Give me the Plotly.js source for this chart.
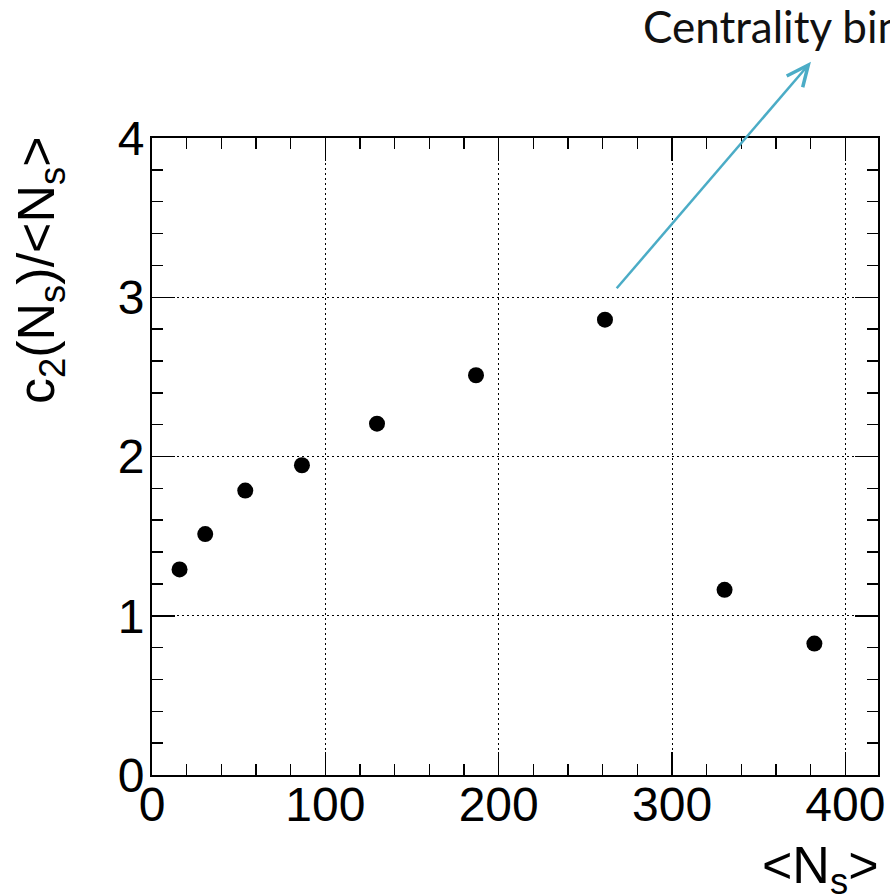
<!DOCTYPE html>
<html>
<head>
<meta charset="utf-8">
<script src="https://cdn.plot.ly/plotly-3.0.1.min.js"></script>
<style>html,body{margin:0;padding:0;background:#fff;}#chart{width:890px;height:895px;}</style>
</head>
<body>
<div id="chart"></div>
<script>
// Data
const meanNs = [15.9, 30.7, 53.8, 86.5, 129.8, 186.9, 261.3, 330.3, 382.1];
const c2OverNs = [1.291, 1.513, 1.786, 1.945, 2.206, 2.510, 2.859, 1.163, 0.825];
const xTickVals = [0, 100, 200, 300, 400];
const yTickVals = [0, 1, 2, 3, 4];
const yTitleText = 'c<sub>2</sub>(N<sub>s</sub>)/&lt;N<sub>s</sub>&gt;';
const xTitleText = '&lt;N<sub>s</sub>&gt;';
const noteText = 'Centrality bin';

const W = 890, H = 895;
const m = {l: 152, r: 12, t: 138, b: 120};
const pw = W - m.l - m.r, ph = H - m.t - m.b;
const px = v => (v - m.l) / pw;
const py = v => (H - m.b - v) / ph;

const helv = '"Liberation Sans", Arial, Helvetica, sans-serif';
const axisFont = {family: helv, size: 48, color: '#000'};

const trace = {
  x: meanNs, y: c2OverNs, type: 'scatter', mode: 'markers',
  marker: {color: '#000', size: 16, symbol: 'circle'},
  cliponaxis: false, hoverinfo: 'skip'
};

const common = {
  showline: true, linecolor: '#000', linewidth: 2, mirror: 'allticks',
  ticks: 'inside', ticklen: 23, tickwidth: 1.5, tickcolor: '#000',
  showgrid: true, gridcolor: '#000', gridwidth: 1, griddash: '2px,3px',
  zeroline: false, tickfont: axisFont, tickmode: 'array'
};

const layout = {
  width: W, height: H, margin: m,
  paper_bgcolor: '#fff', plot_bgcolor: '#fff', showlegend: false,
  xaxis: Object.assign({}, common, {
    range: [0, 418.8], tickvals: xTickVals, ticktext: xTickVals.map(String),
    minor: {ticks: 'inside', ticklen: 11, tickwidth: 1.5, tickcolor: '#000', dtick: 20, tick0: 0, showgrid: false},
    ticklabelstandoff: -14
  }),
  yaxis: Object.assign({}, common, {
    range: [0, 4], tickvals: yTickVals, ticktext: yTickVals.map(String),
    minor: {ticks: 'inside', ticklen: 11, tickwidth: 1.5, tickcolor: '#000', dtick: 0.2, tick0: 0, showgrid: false},
    ticklabelstandoff: -4
  }),
  annotations: [
    {xref: 'paper', yref: 'paper', x: px(40), y: py(134), xanchor: 'center', yanchor: 'top',
     text: yTitleText, textangle: -90, showarrow: false,
     font: {family: helv, size: 52, color: '#000'}},
    {xref: 'paper', yref: 'paper', x: px(881), y: py(869), xanchor: 'right', yanchor: 'middle',
     text: xTitleText, showarrow: false,
     font: {family: helv, size: 52, color: '#000'}},
    {xref: 'paper', yref: 'paper', x: px(641), y: py(26), xanchor: 'left', yanchor: 'middle',
     text: noteText, showarrow: false,
     font: {family: 'Lato, "Open Sans", sans-serif', size: 44, color: '#111'}}
  ],
  shapes: [
    {type: 'line', xref: 'paper', yref: 'paper', x0: px(616.7), y0: py(288.3), x1: px(807.5), y1: py(66),
     line: {color: '#4BACC6', width: 2.5}},
    {type: 'path', xref: 'paper', yref: 'paper',
     path: 'M' + px(786.7) + ',' + py(76) + ' L' + px(808.3) + ',' + py(65) + ' L' + px(802.7) + ',' + py(87.3),
     line: {color: '#4BACC6', width: 3.5}}
  ]
};

Plotly.newPlot('chart', [trace], layout, {displayModeBar: false, staticPlot: true});
</script>
</body>
</html>
